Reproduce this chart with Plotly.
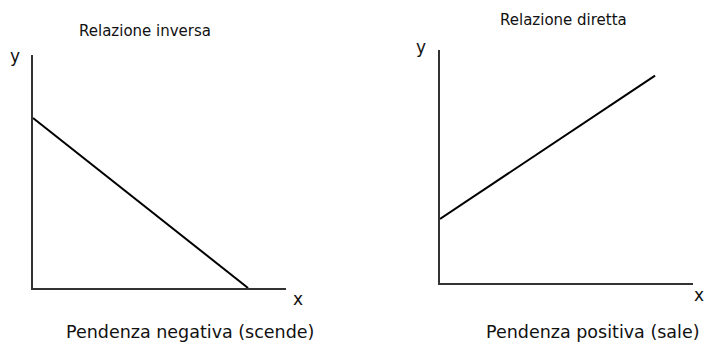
import plotly.graph_objects as go

W, H = 706, 347

# Data
inv_x = [0, 8.5]
inv_y = [7.3, 0]
dir_x = [0, 8.5]
dir_y = [2.75, 8.9]

title_left = "Relazione inversa"
title_right = "Relazione diretta"
caption_left = "Pendenza negativa (scende)"
caption_right = "Pendenza positiva (sale)"

FONT = "DejaVu Sans"

def px(x):
    return x / W

def py(y):
    return (H - y) / H

fig = go.Figure()
fig.add_trace(go.Scatter(x=inv_x, y=inv_y, mode="lines",
                         line=dict(color="#000000", width=2),
                         xaxis="x", yaxis="y", showlegend=False, hoverinfo="skip"))
fig.add_trace(go.Scatter(x=dir_x, y=dir_y, mode="lines",
                         line=dict(color="#000000", width=2),
                         xaxis="x2", yaxis="y2", showlegend=False, hoverinfo="skip"))

axis_common = dict(showgrid=False, zeroline=False, showticklabels=False, ticks="",
                   showline=True, linecolor="#333333", linewidth=1.5, range=[0, 10],
                   fixedrange=True)

fig.update_layout(
    width=W, height=H,
    margin=dict(l=0, r=0, t=0, b=0),
    paper_bgcolor="white", plot_bgcolor="white",
    xaxis=dict(domain=[px(33), px(286)], anchor="y", **axis_common),
    yaxis=dict(domain=[py(288), py(55)], anchor="x", **axis_common),
    xaxis2=dict(domain=[px(440), px(693)], anchor="y2", **axis_common),
    yaxis2=dict(domain=[py(283), py(50)], anchor="x2", **axis_common),
    font=dict(family=FONT, color="#000000"),
)

def ann(text, x, y, size):
    fig.add_annotation(text=text, x=px(x), y=py(y), xref="paper", yref="paper",
                       showarrow=False, xanchor="center", yanchor="middle",
                       font=dict(family=FONT, size=size, color="#111111"))

ann(title_left, 145, 31, 15)
ann(title_right, 563, 20, 15)
ann(caption_left, 190, 332, 17.5)
ann(caption_right, 593, 332, 17.5)
ann("y", 15, 56, 17)
ann("x", 298, 299, 17)
ann("y", 421, 47, 17)
ann("x", 699, 295, 17)

fig.write_html("out.html", config={"displayModeBar": False},
               post_script="document.body.style.margin='0';document.body.style.overflow='hidden';")
